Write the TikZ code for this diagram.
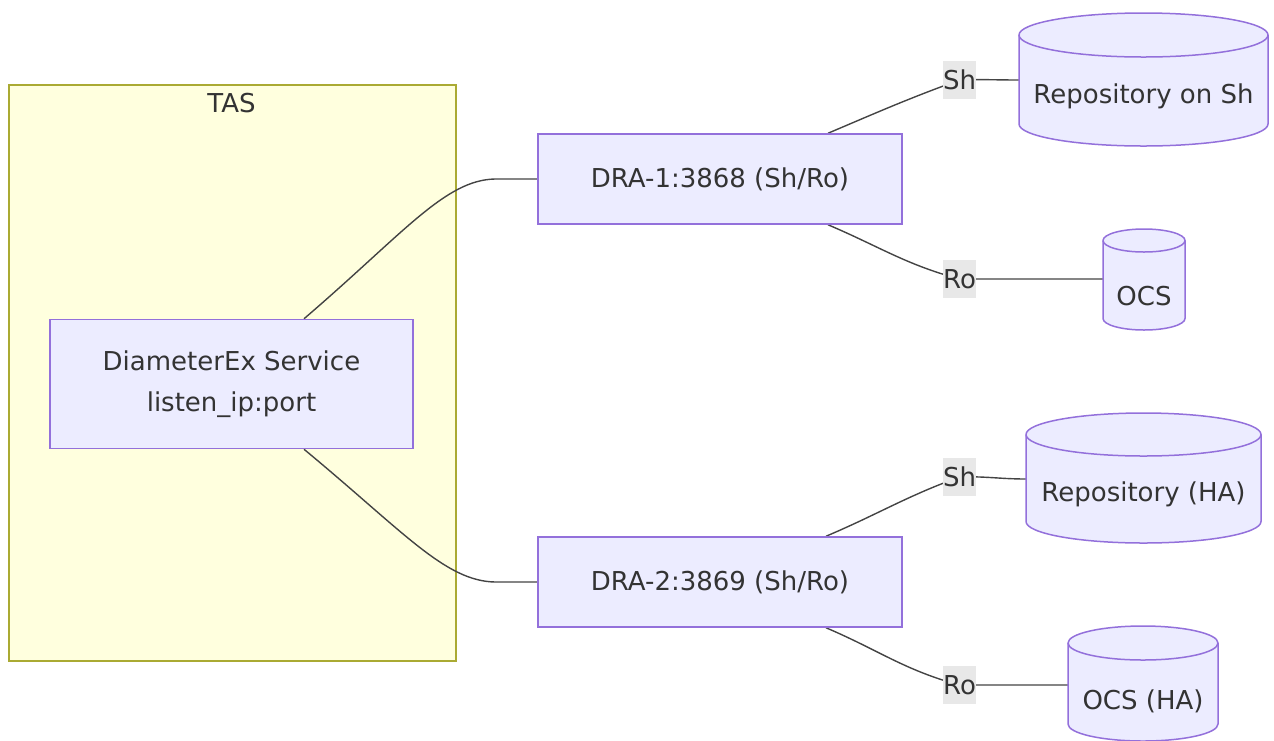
\documentclass[tikz,border=0pt]{standalone}
\usepackage{fontspec}
\setmainfont{DejaVu Sans}
\definecolor{nodefill}{HTML}{ECECFF}
\definecolor{nodeline}{HTML}{9370DB}
\definecolor{clfill}{HTML}{FFFFDE}
\definecolor{clline}{HTML}{AAAA33}
\definecolor{lblfill}{HTML}{E8E8E8}
\definecolor{edgec}{HTML}{444444}
\definecolor{txt}{HTML}{333333}
\pgfdeclarelayer{bg}
\pgfdeclarelayer{edges}
\pgfsetlayers{bg,edges,main}
\begin{document}
\begin{tikzpicture}[x=1pt,y=1pt,
  font=\fontsize{26}{41}\selectfont, text=txt,
  box/.style={draw=nodeline, fill=nodefill, line width=1.5pt, inner sep=0pt, align=center},
  cluster/.style={draw=clline, fill=clfill, line width=1.5pt, inner sep=0pt},
  dbs/.style={draw=nodeline, fill=nodefill, line width=1.5pt},
  dbl/.style={draw=nodeline, line width=1.5pt},
  lbl/.style={fill=lblfill, inner xsep=0pt, inner ysep=0pt, minimum height=38pt},
  conn/.style={draw=edgec, line width=1.4pt}]
\useasboundingbox (0,0) rectangle (1274,-740);

% cluster
\begin{pgfonlayer}{bg}
\node[cluster, minimum width=447pt, minimum height=576pt, anchor=north west] (tas) at (8,-84) {};
\end{pgfonlayer}
\node (taslbl) at (231.5,-103) {TAS};

% boxes
\node[box, minimum width=363pt, minimum height=129pt] (dx) at (231.5,-384) {DiameterEx Service\\listen\_ip:port};
\node[box, minimum width=364pt, minimum height=90pt] (d1) at (720,-179) {DRA-1:3868 (Sh/Ro)};
\node[box, minimum width=364pt, minimum height=90pt] (d2) at (720,-582) {DRA-2:3869 (Sh/Ro)};

% cylinder: Repository on Sh
\draw[dbs] (1019,-35) -- (1019,-124) arc[start angle=180,end angle=360,x radius=124.5,y radius=22] -- (1268,-35) arc[start angle=0,end angle=180,x radius=124.5,y radius=22] -- cycle;
\draw[dbl] (1019,-35) arc[start angle=180,end angle=360,x radius=124.5,y radius=22];
\node (repo1) at (1143.5,-96) {Repository on Sh};
\coordinate (repo1w) at (1019,-80);

% cylinder: OCS
\draw[dbs] (1103,-240.5) -- (1103,-318.5) arc[start angle=180,end angle=360,x radius=41,y radius=11.5] -- (1185,-240.5) arc[start angle=0,end angle=180,x radius=41,y radius=11.5] -- cycle;
\draw[dbl] (1103,-240.5) arc[start angle=180,end angle=360,x radius=41,y radius=11.5];
\node (ocs1) at (1144,-296) {OCS};
\coordinate (ocs1w) at (1103,-279);

% cylinder: Repository (HA)
\draw[dbs] (1026,-434.5) -- (1026,-521.5) arc[start angle=180,end angle=360,x radius=117.5,y radius=21.5] -- (1261,-434.5) arc[start angle=0,end angle=180,x radius=117.5,y radius=21.5] -- cycle;
\draw[dbl] (1026,-434.5) arc[start angle=180,end angle=360,x radius=117.5,y radius=21.5];
\node (repo2) at (1143.5,-494) {Repository (HA)};
\coordinate (repo2w) at (1026,-479);

% cylinder: OCS (HA)
\draw[dbs] (1068,-643) -- (1068,-724) arc[start angle=180,end angle=360,x radius=75,y radius=17] -- (1218,-643) arc[start angle=0,end angle=180,x radius=75,y radius=17] -- cycle;
\draw[dbl] (1068,-643) arc[start angle=180,end angle=360,x radius=75,y radius=17];
\node (ocs2) at (1143,-701) {OCS (HA)};
\coordinate (ocs2w) at (1068,-685);

% edge labels
\node[lbl] (l1) at (959.5,-80) {Sh};
\node[lbl] (l2) at (959.5,-279) {Ro};
\node[lbl] (l3) at (959.5,-477) {Sh};
\node[lbl] (l4) at (959.5,-685) {Ro};

% connectors
\begin{pgfonlayer}{edges}
\draw[conn] ([xshift=72.5pt]dx.north) .. controls (404,-233) and (445,-180) .. (495,-179) -- (d1.west);
\draw[conn] ([xshift=72.5pt]dx.south) .. controls (404,-532) and (445,-581) .. (495,-582) -- (d2.west);
\draw[conn] ([xshift=108pt]d1.north) to[out=23,in=200] (l1.center) to[out=2,in=180] (repo1w);
\draw[conn] ([xshift=108pt]d1.south) to[out=-23,in=165] (l2.center) to[out=0,in=180] (ocs1w);
\draw[conn] ([xshift=106pt]d2.north) to[out=23,in=200] (l3.center) to[out=2,in=180] (repo2w);
\draw[conn] ([xshift=106pt]d2.south) to[out=-23,in=165] (l4.center) to[out=0,in=180] (ocs2w);
\end{pgfonlayer}
\end{tikzpicture}
\end{document}
